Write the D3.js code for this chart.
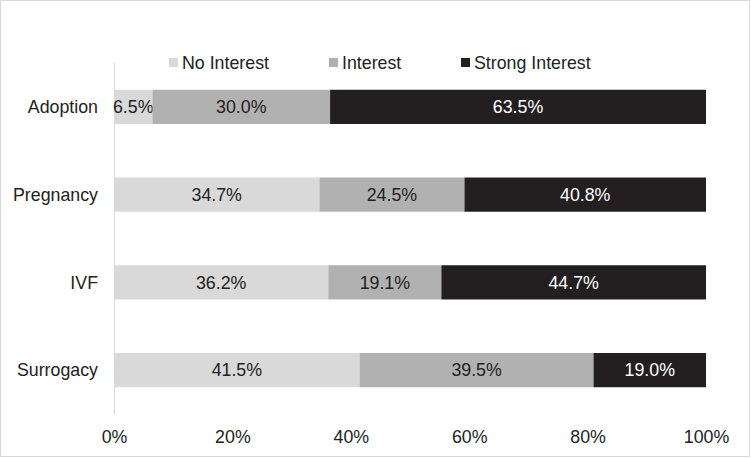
<!DOCTYPE html>
<html>
<head>
<meta charset="utf-8">
<script src="https://cdn.jsdelivr.net/npm/d3@7"></script>
<style>
body { margin: 0; background: #fff; }
text { font-family: "Liberation Sans", Arial, sans-serif; }
</style>
</head>
<body>
<svg id="chart" width="751" height="458"></svg>
<script>
var categories = ['Adoption', 'Pregnancy', 'IVF', 'Surrogacy'];
var seriesNames = ['No Interest', 'Interest', 'Strong Interest'];
var noInterest = [6.5, 34.7, 36.2, 41.5];
var interest = [30.0, 24.5, 19.1, 39.5];
var strongInterest = [63.5, 40.8, 44.7, 19.0];
var tickValues = [0, 20, 40, 60, 80, 100];

var colors = ['#d9d9d9', '#b1b1b1', '#231f20'];
var labelColors = ['#222', '#222', '#fff'];
var FONT = 17.8;

var svg = d3.select('#chart');

// frame
svg.append('rect')
	.attr('x', 0.5).attr('y', 0.5)
	.attr('width', 749).attr('height', 456)
	.attr('fill', '#fff')
	.attr('stroke', '#d9d9d9');

var x = d3.scaleLinear().domain([0, 100]).range([114, 706]);
var y = d3.scaleBand().domain(categories).range([63, 414]).paddingInner(0.61).paddingOuter(0.305);

// vertical axis line (behind the bars)
svg.append('line')
	.attr('x1', 114.5).attr('x2', 114.5)
	.attr('y1', 63).attr('y2', 414)
	.attr('stroke', '#d9d9d9');

var rows = categories.map(function(c, i) {
	return {cat: c, vals: [noInterest[i], interest[i], strongInterest[i]]};
});

rows.forEach(function(r) {
	var start = 0;
	r.vals.forEach(function(v, k) {
		var g = svg.append('g');
		g.append('rect')
			.attr('x', x(start))
			.attr('y', y(r.cat))
			.attr('width', x(start + v) - x(start))
			.attr('height', y.bandwidth())
			.attr('fill', colors[k]);
		g.append('text')
			.attr('x', (x(start) + x(start + v)) / 2)
			.attr('y', y(r.cat) + y.bandwidth() / 2)
			.attr('dy', '0.35em')
			.attr('text-anchor', 'middle')
			.attr('font-size', FONT)
			.attr('fill', labelColors[k])
			.text(v.toFixed(1) + '%');
		start += v;
	});
});

// category labels
svg.selectAll('.cat').data(categories).enter().append('text')
	.attr('class', 'cat')
	.attr('x', 98)
	.attr('y', function(d) { return y(d) + y.bandwidth() / 2; })
	.attr('dy', '0.35em')
	.attr('text-anchor', 'end')
	.attr('font-size', FONT)
	.attr('fill', '#222')
	.text(function(d) { return d; });

// x tick labels
var xAxis = d3.axisBottom(x).tickValues(tickValues).tickSize(0).tickPadding(0)
	.tickFormat(function(d) { return d + '%'; });
var ax = svg.append('g').attr('transform', 'translate(0,430)').call(xAxis);
ax.select('.domain').remove();
ax.selectAll('text')
	.attr('font-size', FONT)
	.attr('font-family', '"Liberation Sans", Arial, sans-serif')
	.attr('fill', '#222');

// legend
var legendX = [169, 329, 461];
seriesNames.forEach(function(n, k) {
	svg.append('rect')
		.attr('x', legendX[k]).attr('y', 58)
		.attr('width', 9).attr('height', 9)
		.attr('fill', colors[k]);
	svg.append('text')
		.attr('x', legendX[k] + 13).attr('y', 63)
		.attr('dy', '0.35em')
		.attr('font-size', FONT)
		.attr('fill', '#222')
		.text(n);
});
</script>
</body>
</html>
